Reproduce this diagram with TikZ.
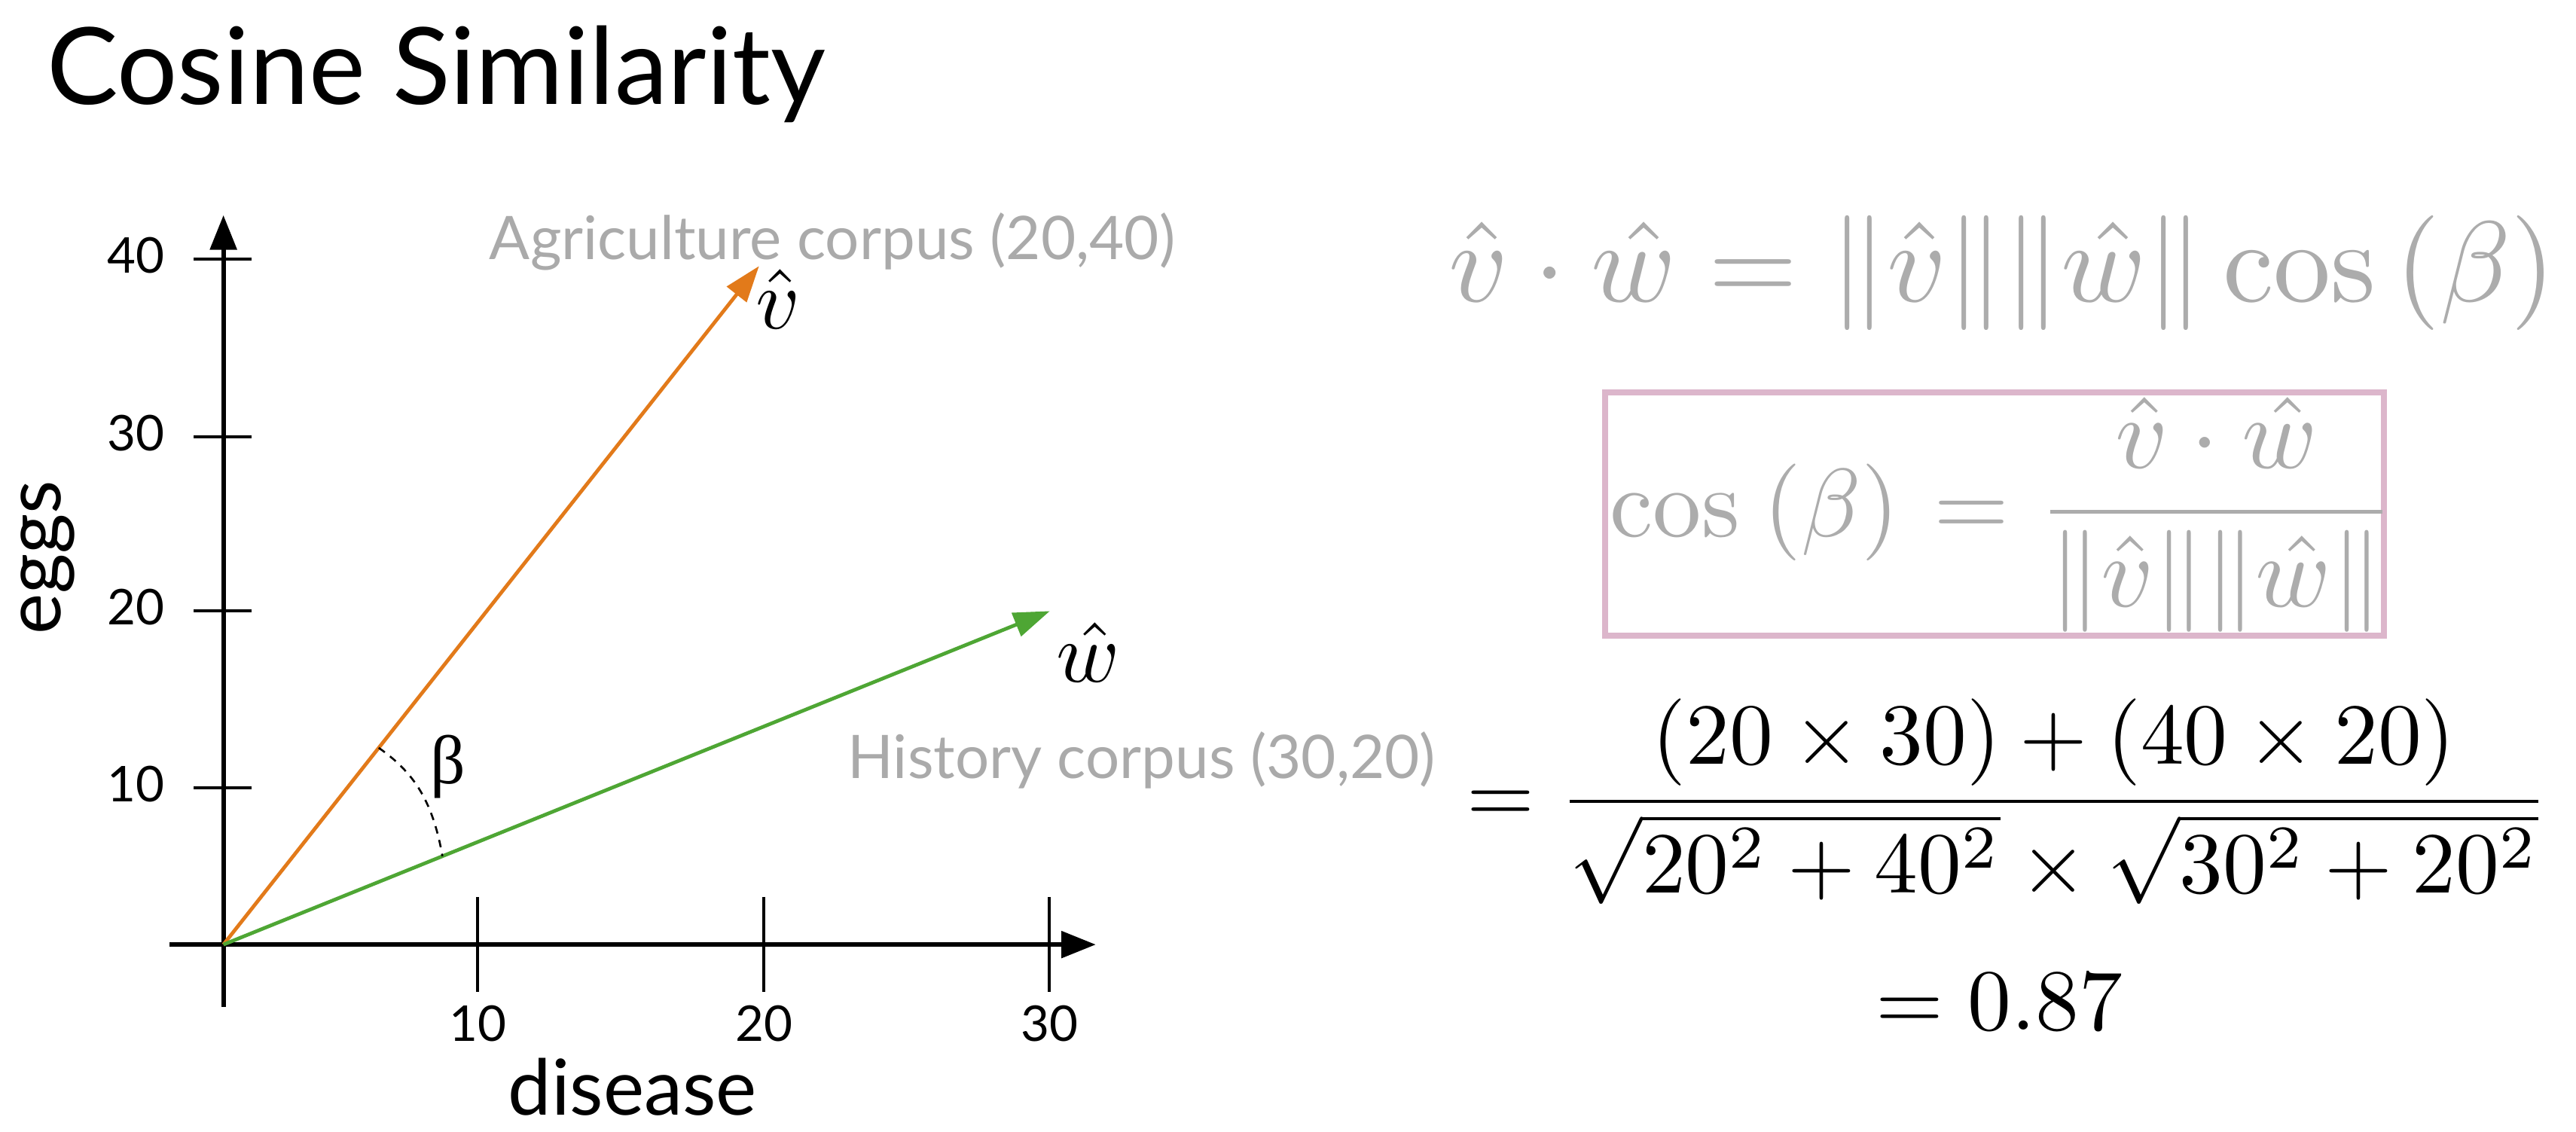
\documentclass[tikz,border=0pt]{standalone}
\usepackage{fontspec}
\usepackage{amsmath}
\usepackage{graphicx}
\newfontfamily\lato{Lato}
\newfontfamily\betafont{Liberation Serif}
\usetikzlibrary{arrows.meta,calc}
\definecolor{vorange}{RGB}{226,122,26}
\definecolor{wgreen}{RGB}{78,166,52}
\definecolor{labelgrey}{RGB}{170,170,170}
\definecolor{formgrey}{RGB}{172,172,172}
\definecolor{boxpink}{RGB}{220,182,203}
\begin{document}
\begin{tikzpicture}[x=0.5pt,y=-0.5pt,
  axisline/.style={line width=1.4pt,-{Triangle[length=10.5pt,width=8pt]}},
  tickline/.style={line width=0.9pt},
  vecline/.style={line width=1.1pt,-{Triangle[length=11pt,width=7.5pt]}},
  plain/.style={inner sep=0pt,outer sep=0pt},
  ticklabel/.style={plain,font=\lato\fontsize{15}{18}\selectfont},
  axislabel/.style={plain,font=\lato\fontsize{23.5}{28}\selectfont},
  corpus/.style={plain,text=labelgrey,font=\lato\fontsize{18.3}{22}\selectfont},
  formula/.style={plain}
]
\useasboundingbox (0,0) rectangle (1568,689);

% title
\node[plain,anchor=base west,font=\lato\fontsize{32.5}{39}\selectfont] (title) at (28.5,63.4) {Cosine Similarity};

% axes
\coordinate (O) at (136,575);
\coordinate (ytop) at (136,131);
\coordinate (ybot) at (136,613);
\coordinate (xleft) at (103,575);
\coordinate (xright) at (667,575);
\draw[line width=1.4pt] (O) -- (ybot);
\draw[line width=1.4pt] (O) -- (xleft);
\draw[axisline] (O) -- (ytop);
\draw[axisline] (O) -- (xright);

% y ticks
\foreach \yy/\lab/\nm in {157.6/40/y40, 266/30/y30, 372/20/y20, 479.7/10/y10}{
  \draw[tickline] (118,\yy) -- (153,\yy);
  \node[ticklabel,anchor=base east] (\nm) at (100,\yy+8.4) {\lab};
}
% x ticks
\foreach \xx/\lab/\nm in {290.7/10/x10, 465/20/x20, 638.7/30/x30}{
  \draw[tickline] (\xx,546) -- (\xx,604);
  \node[ticklabel,anchor=base] (\nm) at (\xx,634) {\lab};
}

% axis labels
\node[axislabel,anchor=base,rotate=90] (eggs) at (36.8,339.5) {eggs};
\node[axislabel,anchor=base] (disease) at (385,679) {disease};

% vectors
\coordinate (V) at (462,162);
\coordinate (W) at (639,372);
\draw[vecline,vorange] (O) -- (V);
\draw[vecline,wgreen] (O) -- (W);

% angle
\coordinate (A1) at ($(O)!0.29!(V)$);
\coordinate (A2) at ($(O)!0.265!(W)$);
\draw[line width=0.6pt,dash pattern=on 2.3pt off 2pt] (A1) .. controls (250,469) and (263,485) .. (A2);
\node[plain,anchor=base west,font=\betafont\fontsize{21}{25}\selectfont] (beta) at (262,477) {β};

% vector labels
\node[plain,anchor=base west] (vhat) at (460,200) {\scalebox{2.6}{$\hat{v}$}};
\node[plain,anchor=base west] (what) at (643,415) {\scalebox{2.6}{$\hat{w}$}};
\node[corpus,anchor=base west] (agri) at (298,158) {Agriculture corpus (20,40)};
\node[corpus,anchor=base west] (hist) at (516,473.7) {History corpus (30,20)};

% formulas
\node[formula,anchor=base west,text=formgrey] (f1) at (882,183.5)
  {\scalebox{3.49}{$\hat{v}\cdot\hat{w} = \|\hat{v}\|\|\hat{w}\|\cos\left(\beta\right)$}};
\node[draw=boxpink,line width=1.9pt,inner sep=0pt,minimum width=237pt,minimum height=74pt] (box) at (1214,313) {};
\node[formula,anchor=base west,text=formgrey] (f2) at (980,326.75)
  {\scalebox{2.95}{$\cos\mkern1.5mu\left(\beta\right)\mkern1.5mu =$}};
\node[formula,anchor=base west,text=formgrey] (f2frac) at (1240.4,327)
  {\scalebox{3.1}{$\displaystyle\frac{\hat{v}\cdot\hat{w}}{\|\hat{v}\|\|\hat{w}\|}$}};
\node[formula,anchor=base west] (f3) at (893,501)
  {\scalebox{2.65}{$\displaystyle = \frac{(20\times 30)+(40\times 20)}{\sqrt{20^2+40^2}\times\sqrt{30^2+20^2}}$}};
\node[formula,anchor=base west] (f4) at (1142,627)
  {\scalebox{2.65}{$= 0.87$}};
\end{tikzpicture}
\end{document}
